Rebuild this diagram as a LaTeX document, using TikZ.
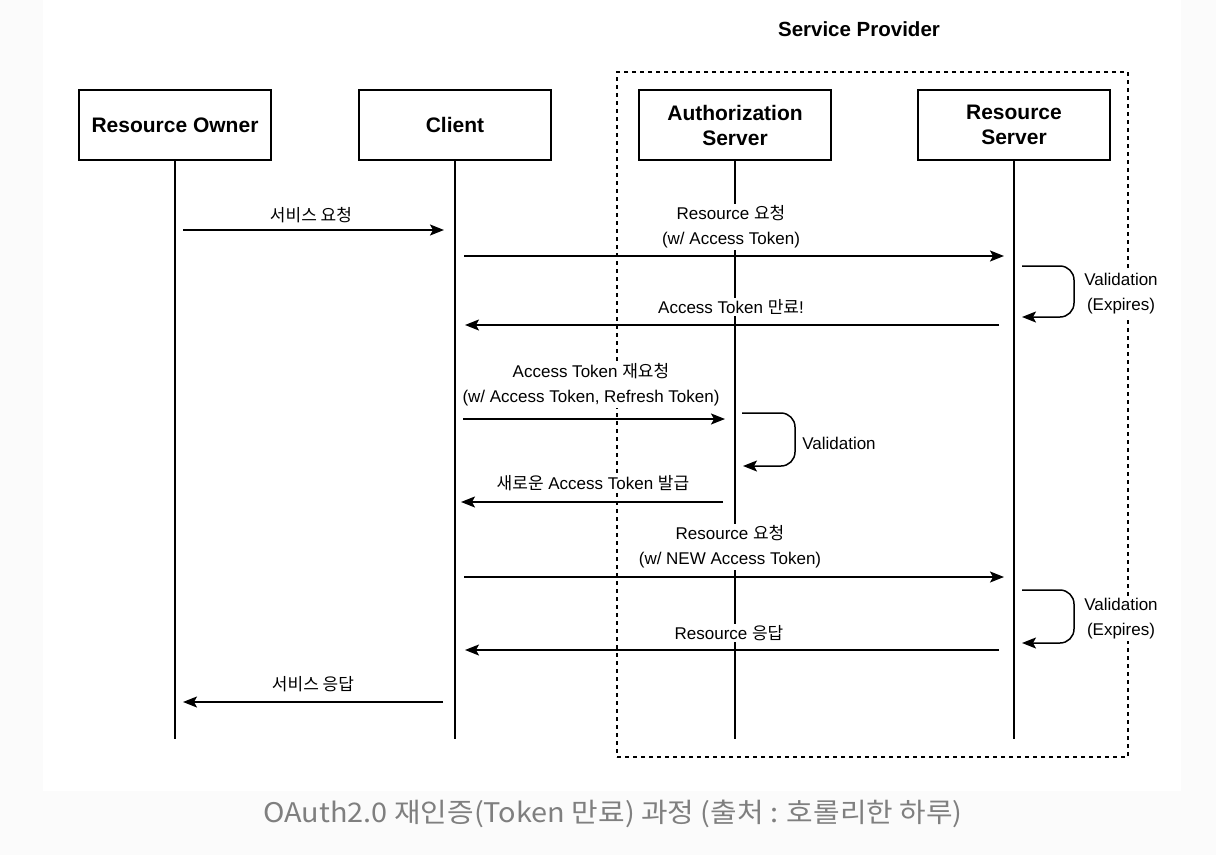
\documentclass[tikz,border=0pt]{standalone}
\usepackage{fontspec}
\setmainfont{Liberation Sans}
\newfontfamily\kr{Noto Sans CJK KR}
\usetikzlibrary{arrows.meta}
\definecolor{bgout}{HTML}{FBFBFB}
\definecolor{capgray}{HTML}{7F7F7F}
\begin{document}
\begin{tikzpicture}[x=1pt,y=-1pt,
  actor/.style={draw, line width=1.3pt, minimum width=192pt, minimum height=70pt, fill=white,
    font=\fontsize{21}{25}\selectfont\bfseries, align=center},
  lbl/.style={fill=white, inner sep=1.5pt, font=\fontsize{17}{25}\selectfont, align=center},
  msg/.style={line width=1.5pt, -{Stealth[length=14pt,width=11pt,inset=3pt]}},
  life/.style={line width=1.2pt},
  loopline/.style={msg, rounded corners=14pt},
  group/.style={draw, line width=1.3pt, dash pattern=on 4pt off 4pt}]
\useasboundingbox (0,0) rectangle (1216,855);
\fill[bgout] (0,0) rectangle (1216,855);
\fill[white] (43,0) rectangle (1181,791);

% group
\node[group, minimum width=511pt, minimum height=685pt, inner sep=0pt] (sp) at (872.5,414.5) {};
\node[font=\fontsize{20.5}{24}\selectfont\bfseries] (sptitle) at (859,29) {Service Provider};

% actors
\node[actor] (ro) at (175,125) {Resource Owner};
\node[actor] (cl) at (455,125) {Client};
\node[actor] (as) at (735,125) {Authorization\\Server};
\node[actor] (rs) at (1014,125) {Resource\\Server};

\coordinate (roE) at (175,739);
\coordinate (clE) at (455,739);
\coordinate (asE) at (735,739);
\coordinate (rsE) at (1014,739);
\draw[life] (ro.south) -- (roE);
\draw[life] (cl.south) -- (clE);
\draw[life] (as.south) -- (asE);
\draw[life] (rs.south) -- (rsE);

% labels
\node[lbl] (l1) at (311,215) {{\kr 서비스 요청}};
\node[lbl] (l2) at (731,227) {Resource {\kr 요청}\\(w/ Access Token)};
\node[lbl] (l3) at (731,307) {Access Token {\kr 만료}!};
\node[lbl] (l4) at (591,385) {Access Token {\kr 재요청}\\(w/ Access Token, Refresh Token)};
\node[lbl] (l5) at (593,483) {{\kr 새로운} Access Token {\kr 발급}};
\node[lbl] (l6) at (730,547) {Resource {\kr 요청}\\(w/ NEW Access Token)};
\node[lbl] (l7) at (729,633) {Resource {\kr 응답}};
\node[lbl] (l8) at (313,684) {{\kr 서비스 응답}};
\node[lbl] (v1) at (1121,294) {Validation\\(Expires)};
\node[lbl] (v2) at (839,443) {Validation};
\node[lbl] (v3) at (1121,619) {Validation\\(Expires)};

% message end points
\coordinate (m1a) at (183,230);  \coordinate (m1b) at (444,230);
\coordinate (m2a) at (464,256);  \coordinate (m2b) at (1004,256);
\coordinate (m3a) at (999,325);  \coordinate (m3b) at (465,325);
\coordinate (m4a) at (463,419);  \coordinate (m4b) at (725,419);
\coordinate (m5a) at (723,502);  \coordinate (m5b) at (461,502);
\coordinate (m6a) at (464,577);  \coordinate (m6b) at (1004,577);
\coordinate (m7a) at (999,650);  \coordinate (m7b) at (465,650);
\coordinate (m8a) at (443,702);  \coordinate (m8b) at (183,702);

\draw[msg] (m1a) -- (m1b);
\draw[msg] (m2a) -- (m2b);
\draw[msg] (m3a) -- (m3b);
\draw[msg] (m4a) -- (m4b);
\draw[msg] (m5a) -- (m5b);
\draw[msg] (m6a) -- (m6b);
\draw[msg] (m7a) -- (m7b);
\draw[msg] (m8a) -- (m8b);

% self loops
\coordinate (s1a) at (1022,266); \coordinate (s1b) at (1022,317);
\coordinate (s2a) at (742,413);  \coordinate (s2b) at (743,466);
\coordinate (s3a) at (1022,590); \coordinate (s3b) at (1022,643);
\draw[loopline] (s1a) -- (1074,266) -- (1074,317) -- (s1b);
\draw[loopline] (s2a) -- (795,413) -- (795,466) -- (s2b);
\draw[loopline] (s3a) -- (1074,590) -- (1074,643) -- (s3b);

% caption
\node[font=\kr\fontsize{27}{30}\selectfont, text=capgray] (cap) at (613,814) {\scalebox{1.07}[1]{OAuth2.0 재인증(Token 만료) 과정 (출처 : 호롤리한 하루)}};
\end{tikzpicture}
\end{document}
